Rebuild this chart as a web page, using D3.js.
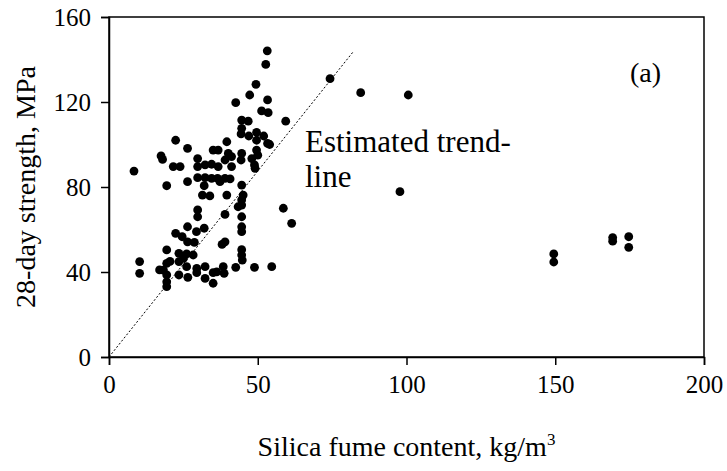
<!DOCTYPE html>
<html>
<head>
<meta charset="utf-8">
<script src="https://cdn.jsdelivr.net/npm/d3@7"></script>
<style>
  body { margin: 0; background: #fff; }
  svg text { font-family: "Liberation Serif", "Times New Roman", serif; fill: #000; }
</style>
</head>
<body>
<svg id="chart" width="727" height="471"></svg>
<script>
// silica fume content (kg/m3) and 28-day strength (MPa)
var silicaFume = [
  8.4, 10.3, 10.3, 17.5, 18, 19.4, 21.6, 23.9, 22.4, 26.4,
  26.4, 29.8, 29.8, 32.3, 34.5, 35, 29.8, 32.3, 34.5, 32,
  31.4, 33.9, 29.8, 29.8, 26.4, 29.4, 32, 22.4, 24.6, 26.4,
  28.7, 19.4, 19.4, 18.3, 19.4, 19.4, 19.4, 23.5, 26.1, 28.3,
  23.5, 26.1, 23.5, 26.5, 29.5, 29.5, 32.3, 35, 35, 25,
  32.3, 38.4, 38.7, 42.6, 44.6, 44.8, 48.9, 54.7, 39, 38,
  44.6, 44.6, 44.6, 39, 43.4, 44.6, 44.6, 45.1, 39.6, 44.6,
  37.3, 36.5, 39, 40.7, 36.7, 41.2, 39, 41.2, 44.4, 48,
  48.9, 49.1, 36.7, 40.1, 44.6, 39.6, 49.6, 53.3, 49.6, 50,
  53.2, 52.7, 49.4, 47.3, 42.6, 53.3, 51.3, 53.5, 59.4, 44.6,
  46.8, 44.6, 49.6, 58.6, 61.4, 74.3, 84.6, 100.6, 97.8, 149.5,
  149.5, 169.3, 169.3, 174.7, 174.7, 17, 44.4, 47, 52, 54,
  36.2, 20.5, 44.6
];
var strength28 = [
  87.5, 44.9, 39.4, 94.6, 93, 80.6, 89.6, 89.6, 102, 98.2,
  82.5, 93.4, 89.6, 90.4, 90.7, 97.4, 84.4, 84.4, 84.1, 80.6,
  76.2, 75.8, 69.2, 66, 61.3, 59, 60.6, 58.2, 56.6, 54.2,
  53.9, 50.4, 44.1, 40.9, 38.6, 35.4, 33.1, 48.8, 48.5, 48,
  44.9, 42.5, 38.6, 37.5, 41.7, 39.7, 37, 39.7, 34.7, 46.4,
  42.5, 42.5, 39.4, 42.2, 48, 45.6, 42.2, 42.5, 54.2, 53,
  59, 61.3, 66, 67.1, 70.7, 71.5, 73.9, 76.2, 76.2, 80.9,
  82.5, 84.1, 84.1, 83.8, 89.6, 89.6, 92.7, 94.3, 92.7, 93.4,
  90.4, 88.8, 97.4, 95.8, 95.8, 101.3, 102, 100.5, 97.4, 95,
  144.1, 137.7, 128.3, 123.3, 119.7, 121, 115.8, 115, 111, 111.5,
  111, 107.6, 105.7, 70, 62.9, 131, 124.4, 123.3, 77.8, 48.5,
  44.7, 56.2, 54.5, 56.6, 51.6, 41, 105, 104, 104, 100,
  40.1, 45, 50.5
];
// estimated trend-line, through the origin
var trendX = [0, 82];
var trendY = [0, 143.5];

var xTicks = [0, 50, 100, 150, 200];
var yTicks = [0, 40, 80, 120, 160];

var serif = '"Liberation Serif", "Times New Roman", serif';

var svg = d3.select("#chart"),
   margin = {top: 17, right: 23, bottom: 114, left: 109},
   width = 727 - margin.left - margin.right,
   height = 471 - margin.top - margin.bottom,
   g = svg.append("g").attr("transform", "translate(" + margin.left + "," + margin.top + ")");

var x = d3.scaleLinear().domain([0, 200]).range([0, width]),
   y = d3.scaleLinear().domain([0, 160]).range([height, 0]);

// frame
g.append("rect")
   .attr("width", width)
   .attr("height", height)
   .attr("fill", "none")
   .attr("stroke", "#000")
   .attr("stroke-width", 1.5);

var xAxis = g.append("g")
   .attr("transform", "translate(0," + height + ")")
   .call(d3.axisBottom(x).tickValues(xTicks).tickSize(8).tickPadding(10));

var yAxis = g.append("g")
   .call(d3.axisLeft(y).tickValues(yTicks).tickSize(8).tickPadding(10));

[xAxis, yAxis].forEach(function (a) {
   a.attr("font-family", serif).attr("font-size", 25);
   a.select(".domain").attr("stroke-width", 1.5);
   a.selectAll(".tick line").attr("stroke-width", 1.5);
   a.selectAll("text")
      .attr("font-family", serif)
      .attr("font-size", 25)
      .attr("fill", "#000");
});

// trend line
g.append("line")
   .attr("x1", x(trendX[0])).attr("y1", y(trendY[0]))
   .attr("x2", x(trendX[1])).attr("y2", y(trendY[1]))
   .attr("stroke", "#000")
   .attr("stroke-width", 1)
   .attr("stroke-dasharray", "2,2");

// points
g.selectAll("circle.pt")
   .data(silicaFume)
   .enter().append("circle")
   .attr("class", "pt")
   .attr("cx", function (d) { return x(d); })
   .attr("cy", function (d, i) { return y(strength28[i]); })
   .attr("r", 4.4)
   .attr("fill", "#000");

// labels
g.append("text")
   .attr("x", 196).attr("y", 135)
   .style("font-size", "31px")
   .text("Estimated trend-");
g.append("text")
   .attr("x", 196).attr("y", 170)
   .style("font-size", "31px")
   .text("line");

g.append("text")
   .attr("x", 521).attr("y", 65)
   .style("font-size", "28px")
   .text("(a)");

// axis titles
var xt = svg.append("text")
   .attr("x", margin.left + width / 2)
   .attr("y", 456)
   .attr("text-anchor", "middle")
   .style("font-size", "28px");
xt.append("tspan").text("Silica fume content, kg/m");
xt.append("tspan").attr("dy", -11).style("font-size", "17px").text("3");

svg.append("text")
   .attr("transform", "translate(35," + (margin.top + height / 2) + ") rotate(-90)")
   .attr("text-anchor", "middle")
   .style("font-size", "28px")
   .text("28-day strength, MPa");
</script>
</body>
</html>
